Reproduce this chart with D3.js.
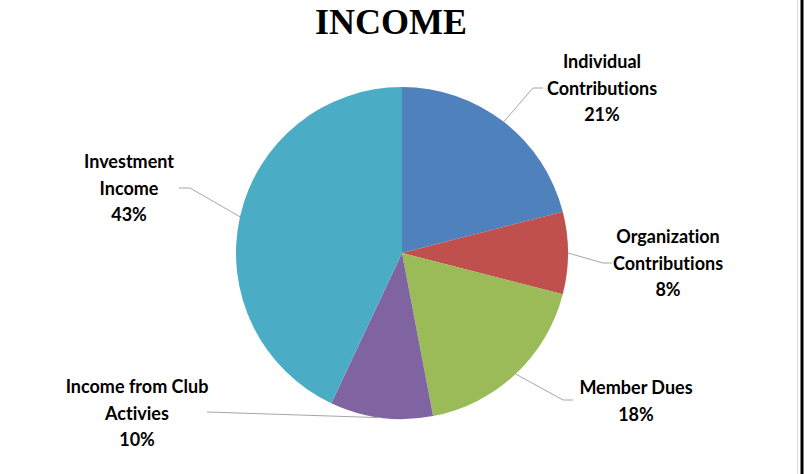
<!DOCTYPE html>
<html>
<head>
<meta charset="utf-8">
<script src="https://cdn.jsdelivr.net/npm/d3@7"></script>
<style>
  body { margin: 0; background: #fff; }
  svg { display: block; }
  text { font-variant-ligatures: none; font-feature-settings: "liga" 0; }
</style>
</head>
<body>
<svg id="chart" width="809" height="474"></svg>
<script>
// data
const categories = ["Individual Contributions", "Organization Contributions", "Member Dues", "Income from Club Activies", "Investment Income"];
const values = [21, 8, 18, 10, 43];
const colors = ["#4F81BD", "#C0504D", "#9BBB59", "#8064A2", "#4BACC6"];
// label lines (how the name wraps)
const labelLines = [
  ["Individual", "Contributions"],
  ["Organization", "Contributions"],
  ["Member Dues"],
  ["Income from Club", "Activies"],
  ["Investment", "Income"]
];

const svg = d3.select("#chart");
const cx = 402, cy = 253, radius = 166;

// frame lines on the right
svg.append("line").attr("x1", 797.5).attr("x2", 797.5).attr("y1", 0).attr("y2", 474)
  .attr("stroke", "#d9d9d9").attr("stroke-width", 1);
svg.append("line").attr("x1", 802).attr("x2", 802).attr("y1", 0).attr("y2", 474)
  .attr("stroke", "#000").attr("stroke-width", 3);

svg.append("text")
  .attr("x", 391).attr("y", 34)
  .attr("text-anchor", "middle")
  .attr("font-family", "Liberation Serif, serif")
  .attr("font-weight", "bold")
  .attr("font-size", 36)
  .text("INCOME");

const pie = d3.pie().sort(null).value(d => d);
const arcs = pie(values);
const arc = d3.arc().innerRadius(0).outerRadius(radius);

const g = svg.append("g").attr("transform", `translate(${cx},${cy})`);

g.selectAll("path.slice")
  .data(arcs)
  .enter().append("path")
  .attr("class", "slice")
  .attr("d", arc)
  .attr("fill", (d, i) => colors[i]);

// label layout: text center, elbow, line end (relative to pie center)
const layout = [
  { tx: 200, ty: -185, elbow: [131, -165], end: [141, -165] },
  { tx: 266, ty: -10, elbow: [201, 10], end: [210, 10] },
  { tx: 234, ty: 141, elbow: [161, 147], end: [171, 147] },
  { tx: -265, ty: 140, elbow: null, end: [-195, 159] },
  { tx: -273, ty: -85, elbow: [-212, -65], end: [-223, -65] }
];

arcs.forEach((d, i) => {
  const mid = (d.startAngle + d.endAngle) / 2;
  const p0 = [radius * Math.sin(mid), -radius * Math.cos(mid)];
  const L = layout[i];
  const pts = [p0];
  if (L.elbow) pts.push(L.elbow);
  pts.push(L.end);
  g.append("path")
    .attr("d", d3.line()(pts))
    .attr("fill", "none")
    .attr("stroke", "#a6a6a6")
    .attr("stroke-width", 1);

  const lines = labelLines[i].concat([d3.format(".0%")(d.data / 100)]);
  const t = g.append("text")
    .attr("text-anchor", "middle")
    .attr("font-family", "Lato, sans-serif")
    .attr("font-weight", "bold")
    .attr("font-size", 18)
    .attr("fill", "#000");
  lines.forEach((s, j) => {
    t.append("tspan").attr("x", L.tx).attr("y", L.ty + j * 26.7).text(s);
  });
});
</script>
</body>
</html>
